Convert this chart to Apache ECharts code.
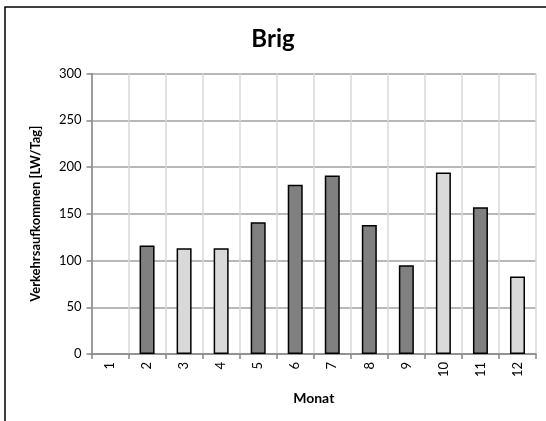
<!DOCTYPE html>
<html>
<head>
<meta charset="utf-8">
<script src="https://cdn.jsdelivr.net/npm/echarts@6/dist/echarts.min.js"></script>
<style>
  html, body { margin: 0; padding: 0; background: #ffffff; }
  #chart { width: 546px; height: 421px; }
</style>
</head>
<body>
<div id="chart"></div>
<script>
// Monthly traffic volume at Brig (trucks per day)
const months = ['1', '2', '3', '4', '5', '6', '7', '8', '9', '10', '11', '12'];
const volumes = [null, 116, 113, 113, 141, 181, 191, 138, 95, 194, 157, 83];
// true = measured month (dark bar), false = estimated month (light bar)
const measured = [true, true, false, false, true, true, true, true, true, false, true, false];
const yTicks = [0, 50, 100, 150, 200, 250, 300];

const FONT = 'Lato, "Open Sans", sans-serif';
const DARK = '#808080';
const LIGHT = '#d9d9d9';

const chart = echarts.init(document.getElementById('chart'), null, { renderer: 'canvas' });

chart.setOption({
  animation: false,
  backgroundColor: '#ffffff',
  graphic: [{
    type: 'rect',
    shape: { x: 5, y: 7, width: 600, height: 500 },
    style: { fill: 'none', stroke: '#000000', lineWidth: 1.5 },
    silent: true
  }],
  title: {
    text: 'Brig',
    left: 268,
    top: 22,
    textAlign: 'center',
    textStyle: { fontFamily: FONT, fontWeight: 'bold', fontSize: 24, color: '#000000' }
  },
  grid: { left: 91.5, top: 73.5, right: 10, bottom: 67, containLabel: false },
  xAxis: {
    type: 'category',
    data: months,
    boundaryGap: true,
    name: 'Monat',
    nameLocation: 'middle',
    nameGap: 37,
    nameTextStyle: { fontFamily: FONT, fontWeight: 'bold', fontSize: 14, color: '#000000' },
    axisLine: { show: true, lineStyle: { color: '#868686', width: 1.5 } },
    axisTick: { show: true, alignWithLabel: false, length: 5, lineStyle: { color: '#868686', width: 1.5 } },
    axisLabel: { rotate: 90, margin: 8, fontFamily: FONT, fontSize: 13, color: '#000000' },
    splitLine: { show: true, lineStyle: { color: '#d9d9d9', width: 1.5 } }
  },
  yAxis: {
    type: 'value',
    min: yTicks[0],
    max: yTicks[yTicks.length - 1],
    interval: 50,
    name: 'Verkehrsaufkommen [LW/Tag]',
    nameLocation: 'middle',
    nameGap: 49,
    nameRotate: 90,
    nameTextStyle: { fontFamily: FONT, fontWeight: 'bold', fontSize: 13, color: '#000000' },
    axisLine: { show: true, lineStyle: { color: '#868686', width: 1.5 } },
    axisTick: { show: true, length: 5, lineStyle: { color: '#868686', width: 1.5 } },
    axisLabel: { margin: 10, fontFamily: FONT, fontSize: 13, color: '#000000' },
    splitLine: { show: true, lineStyle: { color: '#a0a0a0', width: 1.5 } }
  },
  series: [{
    type: 'bar',
    barWidth: 15,
    data: volumes.map((v, i) => ({
      value: v,
      itemStyle: { color: measured[i] ? DARK : LIGHT }
    })),
    itemStyle: { borderColor: '#000000', borderWidth: 1.5 }
  }]
});
</script>
</body>
</html>
